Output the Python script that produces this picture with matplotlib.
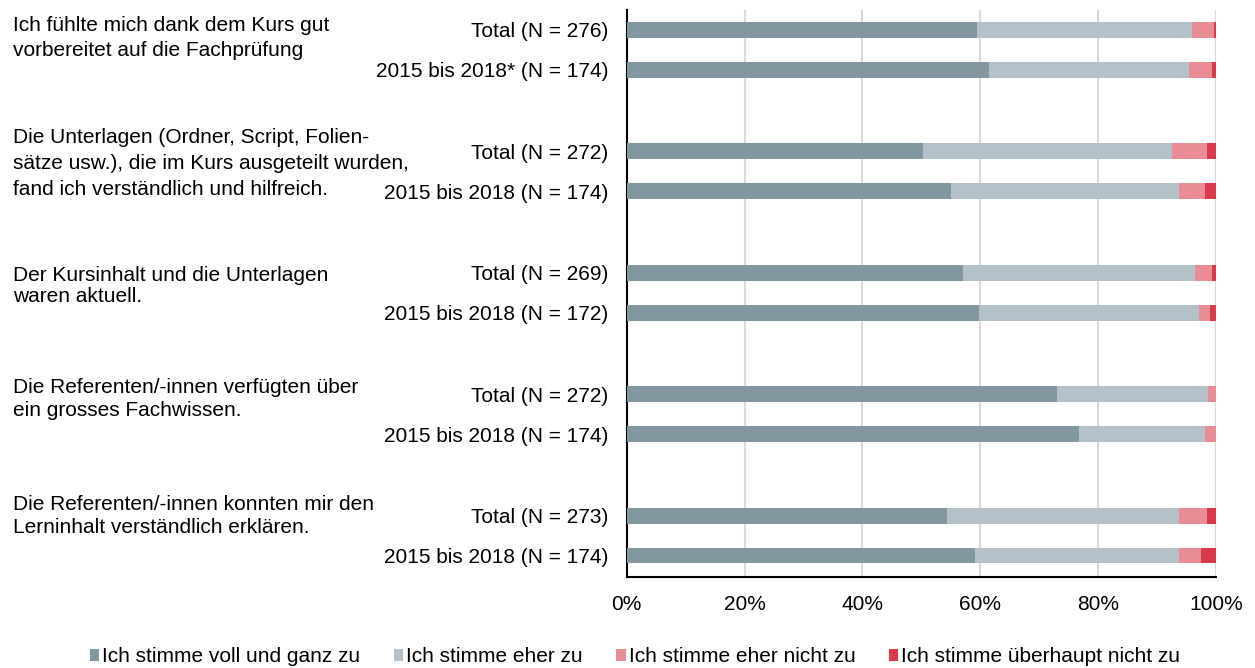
import numpy as np
import matplotlib
matplotlib.use("Agg")
import matplotlib.pyplot as plt

plt.rcParams['font.family'] = ['Liberation Sans', 'DejaVu Sans']

# Questions (left column) and the two rows of each
questions = [
	"Ich fühlte mich dank dem Kurs gut\nvorbereitet auf die Fachprüfung",
	"Die Unterlagen (Ordner, Script, Folien-\nsätze usw.), die im Kurs ausgeteilt wurden,\nfand ich verständlich und hilfreich.",
	"Der Kursinhalt und die Unterlagen\nwaren aktuell.",
	"Die Referenten/-innen verfügten über\nein grosses Fachwissen.",
	"Die Referenten/-innen konnten mir den\nLerninhalt verständlich erklären.",
]
row_labels = [
	"Total (N = 276)", "2015 bis 2018* (N = 174)",
	"Total (N = 272)", "2015 bis 2018 (N = 174)",
	"Total (N = 269)", "2015 bis 2018 (N = 172)",
	"Total (N = 272)", "2015 bis 2018 (N = 174)",
	"Total (N = 273)", "2015 bis 2018 (N = 174)",
]

# Shares in percent, one value per row
voll = [59.5, 61.5, 50.3, 55.1, 57.1, 59.8, 73.1, 76.8, 54.4, 59.1]
eher = [36.4, 34.0, 42.2, 38.7, 39.4, 37.4, 25.5, 21.4, 39.4, 34.7]
eher_nicht = [3.7, 3.8, 6.0, 4.4, 2.8, 1.7, 1.4, 1.8, 4.7, 3.7]
gar_nicht = [0.4, 0.7, 1.5, 1.8, 0.7, 1.1, 0.0, 0.0, 1.5, 2.5]

series = [voll, eher, eher_nicht, gar_nicht]
series_names = ["Ich stimme voll und ganz zu", "Ich stimme eher zu",
				"Ich stimme eher nicht zu", "Ich stimme überhaupt nicht zu"]
colors = ["#8397a1", "#b5c1c8", "#e88c95", "#d9384d"]

FS = 15

# y positions: two rows per question, bigger gap between questions
group_step = 3.05
ypos = []
for g in range(len(questions)):
	ypos += [g * group_step, g * group_step + 1]
ypos = np.array(ypos)

fig = plt.figure(figsize=(12.55, 6.68), dpi=100)
ax = fig.add_axes([626.7 / 1255, 1 - 577 / 668, (1216 - 626.7) / 1255, (577 - 10) / 668])

left = np.zeros(len(ypos))
handles = []
for vals, name, col in zip(series, series_names, colors):
	vals = np.array(vals)
	b = ax.barh(ypos, vals, left=left, height=0.4, color=col, label=name, zorder=3)
	handles.append(b)
	left += vals

ax.set_xlim(0, 100)
ax.set_ylim(ypos[-1] + 0.54, -0.5)
ax.set_xticks(np.arange(0, 101, 20))
ax.set_xticklabels([f"{v}%" for v in range(0, 101, 20)], fontsize=FS)
ax.set_yticks(ypos)
ax.set_yticklabels(row_labels, fontsize=FS)
ax.tick_params(axis='both', length=0)
ax.tick_params(axis='x', pad=13)
ax.tick_params(axis='y', pad=13)

ax.grid(axis='x', color="#d9d9d9", linewidth=1.5, zorder=0)
for s in ["top", "right"]:
	ax.spines[s].set_visible(False)
ax.spines["left"].set_linewidth(1.5)
ax.spines["bottom"].set_linewidth(1.5)

# Question texts on the left (first line centre in pixels, line spacing)
q_y = [23, 135, 273, 385, 502]
q_ls = [1.38, 1.47, 1.12, 1.25, 1.27]
for txt, y, ls in zip(questions, q_y, q_ls):
	fig.text(13 / 1255, 1 - (y - 7) / 668, txt, ha='left', va='top',
			 fontsize=FS, linespacing=ls)

fig.legend(handles=handles, loc='center', bbox_to_anchor=(0.506, 1 - 657 / 668),
		   ncol=4, frameon=False, fontsize=FS, handlelength=0.45, handleheight=0.45,
		   handletextpad=0.15, columnspacing=1.6, borderaxespad=0)

fig.savefig("out.png", dpi=100)
